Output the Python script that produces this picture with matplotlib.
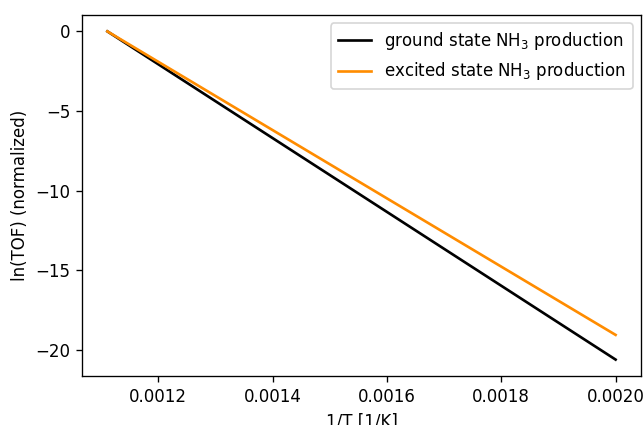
import matplotlib
matplotlib.use("Agg")
import matplotlib.pyplot as plt

inv_T = [0.0011111, 0.0016, 0.0020]
ln_tof_ground = [0.0, -11.33, -20.6]
ln_tof_excited = [0.0, -10.48, -19.05]

W, H, DPI = 644, 425, 120
fig = plt.figure(figsize=(W / DPI, H / DPI), dpi=DPI)
ax = fig.add_axes([82 / W, 1 - 376 / H, (641 - 82) / W, (376 - 15) / H])

ax.plot(inv_T, ln_tof_ground, color="black", lw=1.6, label="ground state NH$_3$ production")
ax.plot(inv_T, ln_tof_excited, color="darkorange", lw=1.6, label="excited state NH$_3$ production")

ax.set_xlabel("1/T [1/K]")
ax.set_ylabel("ln(TOF) (normalized)")
ax.set_xticks([0.0012, 0.0014, 0.0016, 0.0018, 0.0020])
ax.set_xticklabels(["0.0012", "0.0014", "0.0016", "0.0018", "0.0020"])
ax.set_yticks([0, -5, -10, -15, -20])
ax.legend(loc="upper right")

fig.savefig("out.png", dpi=DPI)
